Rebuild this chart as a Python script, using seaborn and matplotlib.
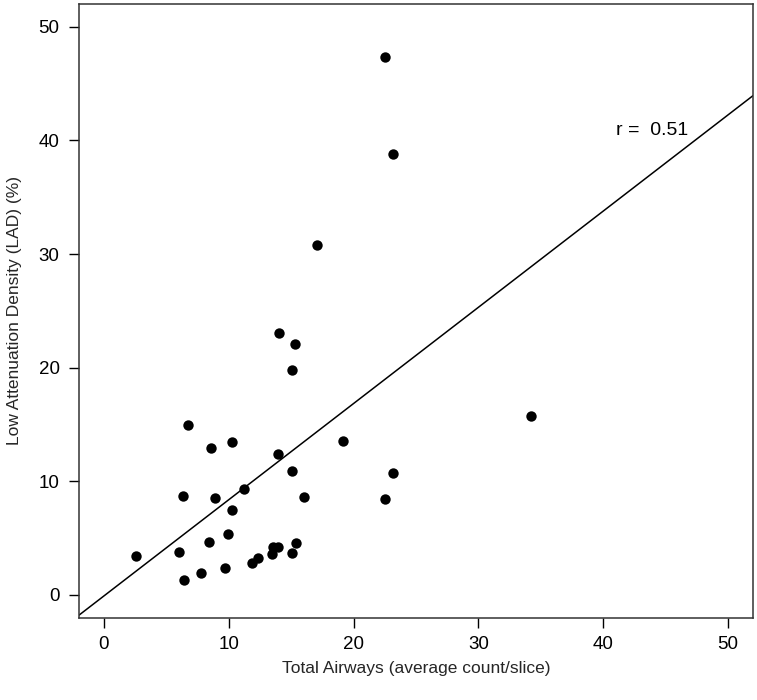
import pandas as pd
import matplotlib
matplotlib.use("Agg")
import matplotlib.pyplot as plt
import seaborn as sns

# Data
total_airways = [22.52, 23.18, 17.04, 14.05, 15.33, 15.04, 19.17, 34.21, 13.97, 15.10,
                 16.05, 23.18, 22.49, 6.75, 8.60, 10.23, 6.35, 8.87, 11.19, 10.23,
                 2.56, 6.03, 8.44, 9.94, 6.41, 7.80, 9.67, 11.88, 12.32, 13.45,
                 13.57, 13.93, 15.05, 15.41]
lad_percent = [47.36, 38.77, 30.79, 23.02, 22.11, 19.77, 13.52, 15.75, 12.38, 10.88,
               8.62, 10.71, 8.42, 14.96, 12.93, 13.43, 8.74, 8.56, 9.33, 7.48,
               3.43, 3.81, 4.64, 5.34, 1.29, 1.96, 2.38, 2.80, 3.21, 3.56,
               4.18, 4.18, 3.67, 4.60]
x_ticks = [0, 10, 20, 30, 40, 50]
y_ticks = [0, 10, 20, 30, 40, 50]
r_label = "r =  0.51"

df = pd.DataFrame({"airways": total_airways, "lad": lad_percent})

sns.set_theme(style="ticks")
plt.rcParams["font.family"] = ["Liberation Sans", "DejaVu Sans"]

fig = plt.figure(figsize=(7.57, 7.0), dpi=100)
ax = fig.add_axes([0.1044, 0.1176, 0.8903, 0.8767])
ax.set_xlim(-2, 52)
ax.set_ylim(-2, 52)

sns.regplot(x="airways", y="lad", data=df, ax=ax, ci=None, truncate=False,
            scatter_kws={"s": 56, "color": "black", "alpha": 1, "linewidths": 0},
            line_kws={"color": "black", "linewidth": 1.1})
ax.set_xlim(-2, 52)
ax.set_ylim(-2, 52)

ax.text(41, 40.9, r_label, ha="left", va="center", fontsize=14, color="black")

ax.set_xticks(x_ticks)
ax.set_yticks(y_ticks)
ax.tick_params(axis="both", direction="out", length=7, width=1, color="black",
               labelsize=13.5, labelcolor="black")
ax.tick_params(axis="x", pad=6)
ax.tick_params(axis="y", pad=7)
for sp in ax.spines.values():
    sp.set_visible(True)
    sp.set_color("#333333")
    sp.set_linewidth(1.1)

ax.set_xlabel("Total Airways (average count/slice)", fontsize=12.5, labelpad=6)
ax.set_ylabel("Low Attenuation Density (LAD) (%)", fontsize=12.5, labelpad=12)

fig.savefig("out.png", dpi=100, facecolor="white")
